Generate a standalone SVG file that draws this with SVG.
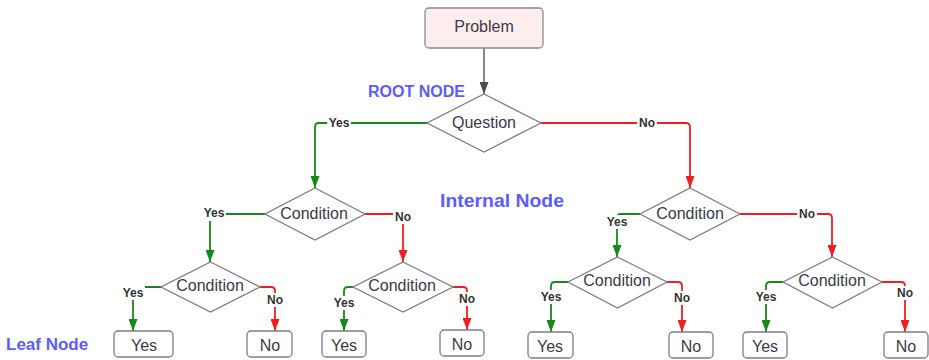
<svg xmlns="http://www.w3.org/2000/svg" width="929" height="360" viewBox="0 0 929 360">
  <style>
    .node-text { font-family: "Liberation Sans", Arial, sans-serif; font-size: 16px; fill: #3a3a45; text-anchor: middle; }
    .diamond { fill: #ffffff; stroke: #7c7c84; stroke-width: 1.3; }
    .box { fill: #ffffff; stroke: #7c7c84; stroke-width: 1.3; }
    .problem { fill: #fdeded; stroke: #8a8a90; stroke-width: 1.3; }
    .edge { fill: none; stroke-width: 1.8; }
    .yes { stroke: #17891a; }
    .no { stroke: #f01f1f; }
    .plain { stroke: #4a4a50; stroke-width: 1.3; }
    .lbl-bg { fill: #ffffff; }
    .lbl { font-family: "Liberation Sans", Arial, sans-serif; font-size: 12px; font-weight: bold; fill: #333333; text-anchor: middle; }
    .tag { font-family: "Liberation Sans", Arial, sans-serif; font-weight: bold; fill: #5c5cff; }
  </style>
  <defs>
    <marker id="arrow-plain" markerUnits="userSpaceOnUse" markerWidth="12" markerHeight="9" viewBox="0 0 12 9" refX="12" refY="4.5" orient="auto">
      <path d="M0,0 L12,4.5 L0,9 z" fill="#4a4a50"/>
    </marker>
    <marker id="arrow-yes" markerUnits="userSpaceOnUse" markerWidth="12" markerHeight="9" viewBox="0 0 12 9" refX="12" refY="4.5" orient="auto">
      <path d="M0,0 L12,4.5 L0,9 z" fill="#17891a"/>
    </marker>
    <marker id="arrow-no" markerUnits="userSpaceOnUse" markerWidth="12" markerHeight="9" viewBox="0 0 12 9" refX="12" refY="4.5" orient="auto">
      <path d="M0,0 L12,4.5 L0,9 z" fill="#f01f1f"/>
    </marker>
  </defs>

  <rect width="929" height="360" fill="#ffffff"/>

  <!-- level tags -->
  <text class="tag" x="368" y="97" font-size="16">ROOT NODE</text>
  <text class="tag" x="440" y="207" font-size="19" textLength="124" lengthAdjust="spacingAndGlyphs">Internal Node</text>
  <text class="tag" x="6" y="350" font-size="17">Leaf Node</text>

  <!-- connectors -->
  <g id="connectors">
    <path class="edge plain" d="M484,48 V94" marker-end="url(#arrow-plain)"/>

    <path class="edge yes" d="M427,123 H319 Q315,123 315,127 V188" marker-end="url(#arrow-yes)"/>
    <path class="edge no" d="M541,123 H686 Q690,123 690,127 V188" marker-end="url(#arrow-no)"/>

    <path class="edge yes" d="M265,214 H210 V262" marker-end="url(#arrow-yes)"/>
    <path class="edge no" d="M365,214 H399 Q403,214 403,218 V262" marker-end="url(#arrow-no)"/>

    <path class="edge yes" d="M640,214 H621 Q617,214 617,218 V257" marker-end="url(#arrow-yes)"/>
    <path class="edge no" d="M740,214 H828 Q832,214 832,218 V257" marker-end="url(#arrow-no)"/>

    <path class="edge yes" d="M161,287 H137 Q133,287 133,291 V331" marker-end="url(#arrow-yes)"/>
    <path class="edge no" d="M260,287 H271 Q275,287 275,291 V331" marker-end="url(#arrow-no)"/>

    <path class="edge yes" d="M353,287 H348 Q344,287 344,291 V331" marker-end="url(#arrow-yes)"/>
    <path class="edge no" d="M453,287 H463 Q467,287 467,291 V330" marker-end="url(#arrow-no)"/>

    <path class="edge yes" d="M568,282 H555 Q551,282 551,286 V332" marker-end="url(#arrow-yes)"/>
    <path class="edge no" d="M667,282 H678 Q682,282 682,286 V332" marker-end="url(#arrow-no)"/>

    <path class="edge yes" d="M783,282 H770 Q766,282 766,286 V332" marker-end="url(#arrow-yes)"/>
    <path class="edge no" d="M882,282 H901 Q905,282 905,286 V332" marker-end="url(#arrow-no)"/>

    <g id="edge-labels">
      <rect class="lbl-bg" x="327" y="116" width="24" height="14"/><text class="lbl" x="339" y="127">Yes</text>
      <rect class="lbl-bg" x="637" y="116" width="20" height="14"/><text class="lbl" x="647" y="127">No</text>

      <rect class="lbl-bg" x="202" y="206" width="24" height="15"/><text class="lbl" x="214" y="217">Yes</text>
      <rect class="lbl-bg" x="393" y="210" width="20" height="14"/><text class="lbl" x="403" y="221">No</text>

      <rect class="lbl-bg" x="605" y="215" width="24" height="14"/><text class="lbl" x="617" y="226">Yes</text>
      <rect class="lbl-bg" x="797" y="207" width="20" height="14"/><text class="lbl" x="807" y="218">No</text>

      <rect class="lbl-bg" x="121" y="286" width="24" height="14"/><text class="lbl" x="133" y="297">Yes</text>
      <rect class="lbl-bg" x="265" y="293" width="20" height="14"/><text class="lbl" x="275" y="304">No</text>

      <rect class="lbl-bg" x="332" y="296" width="24" height="14"/><text class="lbl" x="344" y="307">Yes</text>
      <rect class="lbl-bg" x="457" y="292" width="20" height="14"/><text class="lbl" x="467" y="303">No</text>

      <rect class="lbl-bg" x="539" y="290" width="24" height="14"/><text class="lbl" x="551" y="301">Yes</text>
      <rect class="lbl-bg" x="672" y="291" width="20" height="14"/><text class="lbl" x="682" y="302">No</text>

      <rect class="lbl-bg" x="754" y="290" width="24" height="14"/><text class="lbl" x="766" y="301">Yes</text>
      <rect class="lbl-bg" x="895" y="286" width="20" height="14"/><text class="lbl" x="905" y="297">No</text>
    </g>
  </g>

  <!-- start -->
  <g id="problem">
    <rect class="problem" x="425" y="8" width="118" height="40" rx="4"/>
    <text class="node-text" x="484" y="32">Problem</text>
  </g>

  <!-- root question -->
  <g id="question">
    <polygon class="diamond" points="484,94 541,123 484,152 427,123"/>
    <text class="node-text" x="484" y="128">Question</text>
  </g>

  <!-- internal conditions -->
  <g id="condition-l">
    <polygon class="diamond" points="315,188 365,214 315,240 265,214"/>
    <text class="node-text" x="314" y="219">Condition</text>
  </g>
  <g id="condition-r">
    <polygon class="diamond" points="690,188 740,214 690,240 640,214"/>
    <text class="node-text" x="690" y="219">Condition</text>
  </g>
  <g id="condition-ll">
    <polygon class="diamond" points="210.5,262 260,287 210.5,312 161,287"/>
    <text class="node-text" x="210" y="291">Condition</text>
  </g>
  <g id="condition-lr">
    <polygon class="diamond" points="403,262 453,287 403,312 353,287"/>
    <text class="node-text" x="402" y="291">Condition</text>
  </g>
  <g id="condition-rl">
    <polygon class="diamond" points="617.5,257 667,282 617.5,308 568,282"/>
    <text class="node-text" x="617" y="286">Condition</text>
  </g>
  <g id="condition-rr">
    <polygon class="diamond" points="832.5,257 882,282 832.5,308 783,282"/>
    <text class="node-text" x="832" y="286">Condition</text>
  </g>

  <!-- leaves -->
  <g id="leaf-yes-1">
    <rect class="box" x="114" y="331" width="59" height="26" rx="4"/>
    <text class="node-text" x="144" y="351">Yes</text>
  </g>
  <g id="leaf-no-1">
    <rect class="box" x="247" y="331" width="45" height="26" rx="4"/>
    <text class="node-text" x="270" y="351">No</text>
  </g>
  <g id="leaf-yes-2">
    <rect class="box" x="322" y="331" width="44" height="26" rx="4"/>
    <text class="node-text" x="344" y="351">Yes</text>
  </g>
  <g id="leaf-no-2">
    <rect class="box" x="440" y="330" width="44" height="26" rx="4"/>
    <text class="node-text" x="462" y="350">No</text>
  </g>
  <g id="leaf-yes-3">
    <rect class="box" x="528" y="332" width="45" height="26" rx="4"/>
    <text class="node-text" x="550" y="352">Yes</text>
  </g>
  <g id="leaf-no-3">
    <rect class="box" x="669" y="332" width="44" height="26" rx="4"/>
    <text class="node-text" x="691" y="352">No</text>
  </g>
  <g id="leaf-yes-4">
    <rect class="box" x="743" y="332" width="44" height="26" rx="4"/>
    <text class="node-text" x="765" y="352">Yes</text>
  </g>
  <g id="leaf-no-4">
    <rect class="box" x="884" y="332" width="44" height="26" rx="4"/>
    <text class="node-text" x="906" y="352">No</text>
  </g>
</svg>
